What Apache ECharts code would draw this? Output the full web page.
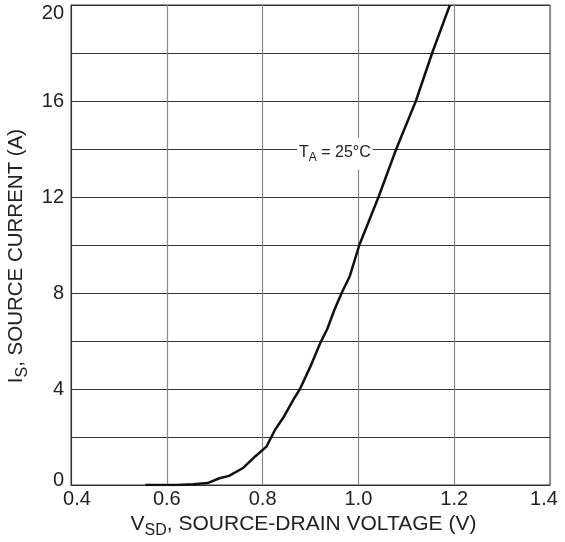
<!DOCTYPE html>
<html><head><meta charset="utf-8">
<script src="https://cdn.jsdelivr.net/npm/echarts@6/dist/echarts.min.js"></script>
<style>html,body{margin:0;padding:0;background:#fff}#c{width:565px;height:542px}</style>
</head><body><div id="c"></div>
<script>
const vsd = [0.555,0.62,0.655,0.685,0.71,0.73,0.76,0.785,0.808,0.826,0.843,0.864,0.878,0.899,0.92,0.935,0.95,0.965,0.982,1.002,1.042,1.079,1.12,1.154,1.191];
const is  = [0,0,0.03,0.08,0.28,0.38,0.72,1.2,1.6,2.3,2.8,3.55,4.0,4.9,5.9,6.5,7.3,8.0,8.7,10,12,14,16,18,20];
const xTicks = [0.4,0.6,0.8,1.0,1.2,1.4];
const yTicks = [0,4,8,12,16,20];
const annotation = {x:0.951, y:13.8};

const font = 'Liberation Sans, Arial, sans-serif';
const lab = {fontSize:20,color:'#222',fontFamily:font};
const chart = echarts.init(document.getElementById('c'));
chart.setOption({
  animation:false,
  grid:{left:71,right:15,top:5,bottom:57,show:true,borderColor:'#333',borderWidth:1,containLabel:false,outerBoundsMode:'none'},
  xAxis:{type:'value',min:0.4,max:1.4,interval:0.2,
    axisLine:{show:true,lineStyle:{color:'#333',width:1}},axisTick:{show:false},
    axisLabel:{margin:4,...lab,
      rich:{l:{...lab,padding:[0,0,0,12]},r:{...lab,padding:[0,12,0,0]}},
      formatter:v=>{
        if(!xTicks.some(t=>Math.abs(t-v)<1e-6)) return '';
        const s=v.toFixed(1);
        if(Math.abs(v-0.4)<1e-6) return '{l|'+s+'}';
        if(Math.abs(v-1.4)<1e-6) return '{r|'+s+'}';
        return s;}},
    splitLine:{show:true,lineStyle:{color:'#888',width:1.2}},
    name:'{a|V}{s|SD}{a|, SOURCE-DRAIN VOLTAGE (V)}',nameLocation:'middle',nameGap:25,
    nameTextStyle:{padding:[0,14,0,0],rich:{a:{fontSize:21,color:'#222',fontFamily:font},s:{fontSize:16,color:'#222',fontFamily:font,padding:[13,0,0,0]}}}
  },
  yAxis:{type:'value',min:0,max:20,interval:2,
    axisLine:{show:true,lineStyle:{color:'#333',width:1}},axisTick:{show:false},
    axisLabel:{margin:7,...lab,
      rich:{t:{...lab,padding:[17,0,0,0]},b:{...lab,padding:[0,0,10,0]}},
      formatter:v=>{
        if(!yTicks.includes(v)) return '';
        if(v===20) return '{t|20}';
        if(v===0) return '{b|0}';
        return String(v);}},
    splitLine:{show:true,lineStyle:{color:'#333',width:1.2}},
    name:'{a|I}{s|S}{a|, SOURCE CURRENT (A)}',nameLocation:'middle',nameGap:35,nameRotate:90,
    nameTextStyle:{padding:[0,22,0,0],rich:{a:{fontSize:20.5,color:'#222',fontFamily:font},s:{fontSize:16,color:'#222',fontFamily:font,padding:[13,0,0,0]}}}
  },
  series:[{type:'line',data:vsd.map((v,i)=>[v,is[i]]),showSymbol:false,
    lineStyle:{color:'#111',width:2.5},
    markPoint:{symbol:'rect',symbolSize:0,silent:true,
      data:[{coord:[annotation.x,annotation.y]}],
      label:{show:true,position:'inside',formatter:'{a|T}{s|A}{a| = 25°C}',
        backgroundColor:'#fff',padding:[4,2,6,2],
        rich:{a:{fontSize:16,color:'#222',fontFamily:font},s:{fontSize:12,color:'#222',fontFamily:font,padding:[10,0,0,0]}}}}
  }]
});
</script></body></html>
